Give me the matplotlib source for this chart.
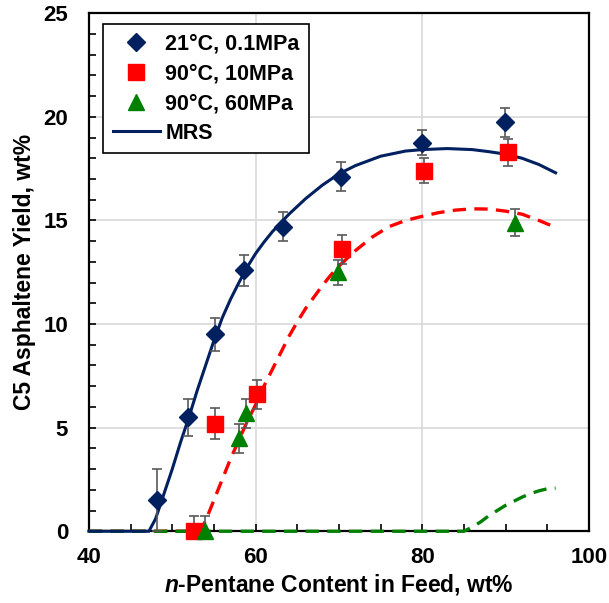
import numpy as np
import matplotlib.pyplot as plt
from matplotlib.ticker import MultipleLocator

plt.rcParams['font.family'] = ['Liberation Sans', 'DejaVu Sans']
plt.rcParams['font.weight'] = 'bold'
plt.rcParams['mathtext.fontset'] = 'custom'
plt.rcParams['mathtext.bfit'] = 'Liberation Sans:italic:bold'
plt.rcParams['mathtext.rm'] = 'Liberation Sans:bold'

x_21c = [48.2, 51.9, 55.1, 58.6, 63.3, 70.2, 80.0, 89.9]
y_21c = [1.5, 5.5, 9.5, 12.6, 14.7, 17.1, 18.75, 19.75]
e_21c = [1.5, 0.9, 0.8, 0.75, 0.7, 0.7, 0.6, 0.7]

x_10mpa = [52.6, 55.1, 60.2, 70.4, 80.2, 90.3]
y_10mpa = [0.0, 5.2, 6.6, 13.6, 17.4, 18.3]
e_10mpa = [0.75, 0.75, 0.7, 0.7, 0.6, 0.65]

x_60mpa = [53.9, 58.0, 58.9, 69.9, 91.1]
y_60mpa = [0.0, 4.5, 5.7, 12.5, 14.9]
e_60mpa = [0.75, 0.7, 0.7, 0.6, 0.65]

# --- MRS model curves ---
mrs_21c_x = [40, 47.2, 48, 48.5, 49, 50, 51, 52, 53, 54, 55, 56, 57, 58, 59, 60, 61,
             62, 64, 66, 68, 70, 72, 75, 78, 80, 83, 86, 88, 90, 92, 94, 96]
mrs_21c_y = [0, 0, 0.6, 1.2, 1.8, 3.0, 4.3, 5.5, 6.8, 8.0, 9.2, 10.3, 11.2, 12.0, 12.75, 13.4, 13.95,
             14.45, 15.3, 16.05, 16.7, 17.25, 17.65, 18.1, 18.35, 18.42, 18.47, 18.42, 18.32, 18.2, 18.0, 17.7, 17.3]

mrs_10mpa_x = [40, 53.3, 54, 55, 56, 57, 58, 59, 60, 61, 62, 63, 64, 65, 66, 67, 68, 69, 70,
               72, 74, 76, 78, 80, 82, 84, 86, 88, 90, 92, 94, 95.5]
mrs_10mpa_y = [0, 0, 0.5, 1.5, 2.5, 3.5, 4.4, 5.3, 6.1, 7.0, 7.8, 8.6, 9.4, 10.1, 10.75, 11.3, 11.85, 12.35, 12.8,
               13.55, 14.2, 14.7, 15.0, 15.2, 15.38, 15.5, 15.56, 15.55, 15.45, 15.3, 15.0, 14.75]

mrs_60mpa_x = [40, 85, 86, 87, 88, 89, 90, 91, 92, 93, 94, 95, 96]
mrs_60mpa_y = [0, 0, 0.2, 0.45, 0.75, 1.0, 1.25, 1.45, 1.65, 1.82, 1.95, 2.05, 2.08]

navy = '#002060'
red = '#FF0000'
green = '#008000'
ebar = '#595959'

fig = plt.figure(figsize=(6.09, 6.03), dpi=100)
ax = fig.add_axes([0.146, 0.119, 0.821, 0.859])

ax.grid(True, color='#d9d9d9', linewidth=1.2, zorder=0)
ax.set_axisbelow(True)

# model lines
ax.plot(mrs_10mpa_x, mrs_10mpa_y, color=red, lw=2.4, ls=(0, (4, 2.5)), clip_on=False, zorder=3)
ax.plot(mrs_60mpa_x, mrs_60mpa_y, color=green, lw=2.4, ls=(0, (4, 2.5)), clip_on=False, zorder=3)
mrs_line, = ax.plot(mrs_21c_x, mrs_21c_y, color=navy, lw=2.2, clip_on=False, zorder=3, label='MRS')

# error bars
for xs, ys, es in [(x_21c, y_21c, e_21c), (x_10mpa, y_10mpa, e_10mpa), (x_60mpa, y_60mpa, e_60mpa)]:
    ax.errorbar(xs, ys, yerr=es, fmt='none', ecolor=ebar, elinewidth=1.2, capsize=3.5,
                capthick=1.2, zorder=4)

# markers
h1, = ax.plot(x_21c, y_21c, 'D', color=navy, ms=9, ls='none', zorder=5, label='21°C, 0.1MPa')
h2, = ax.plot(x_10mpa, y_10mpa, 's', color=red, ms=11, ls='none', zorder=5, clip_on=False,
              label='90°C, 10MPa')
h3, = ax.plot(x_60mpa, y_60mpa, '^', color=green, ms=12, ls='none', zorder=6, clip_on=False,
              label='90°C, 60MPa')

ax.set_xlim(40, 100)
ax.set_ylim(0, 25)
ax.xaxis.set_major_locator(MultipleLocator(20))
ax.xaxis.set_minor_locator(MultipleLocator(5))
ax.yaxis.set_major_locator(MultipleLocator(5))
ax.yaxis.set_minor_locator(MultipleLocator(1))
ax.tick_params(which='both', direction='in', top=False, right=False, labelsize=16)
ax.tick_params(axis='x', pad=11)
ax.tick_params(axis='y', pad=15)
ax.tick_params(which='major', length=5, width=1.2)
ax.tick_params(which='minor', length=5, width=1.2)
for s in ax.spines.values():
    s.set_linewidth(1.6)

ax.set_xlabel(r'$\mathbfit{n}$-Pentane Content in Feed, wt%', fontsize=16.5, fontweight='bold', labelpad=3)
ax.set_ylabel('C5 Asphaltene Yield, wt%', fontsize=16.5, fontweight='bold', labelpad=5)

leg = ax.legend(handles=[h1, h2, h3, mrs_line], loc='upper left', bbox_to_anchor=(0.028, 0.979),
                borderaxespad=0, fancybox=False, framealpha=1, edgecolor='black',
                prop={'size': 15.5, 'weight': 'bold'}, handlelength=2.2, labelspacing=0.4,
                borderpad=0.45, handletextpad=0.25)
leg.get_frame().set_linewidth(1.2)

fig.savefig('out.png', dpi=100)
